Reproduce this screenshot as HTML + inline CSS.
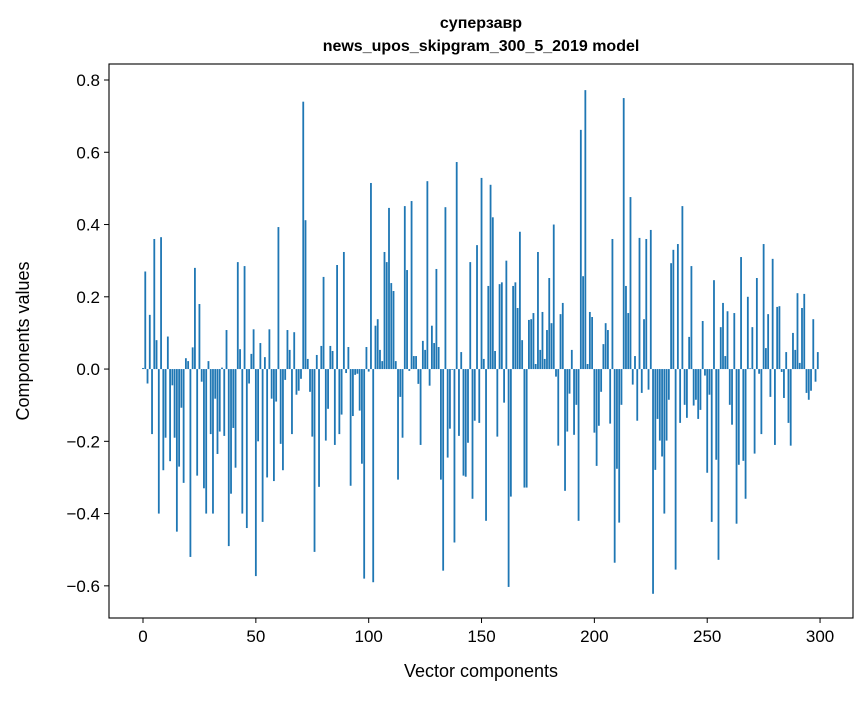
<!DOCTYPE html>
<html><head><meta charset="utf-8"><style>
html,body{margin:0;padding:0;background:#fff;}
svg text{font-family:"Liberation Sans","DejaVu Sans",sans-serif;fill:#000;}
</style></head><body>
<svg id="chart" width="867" height="696" viewBox="0 0 867 696" xmlns="http://www.w3.org/2000/svg">
<rect x="0" y="0" width="867" height="696" fill="#fff"/>
<text x="481" y="28" text-anchor="middle" font-size="16" font-weight="bold">суперзавр</text>
<text x="481" y="51" text-anchor="middle" font-size="16" font-weight="bold">news_upos_skipgram_300_5_2019 model</text>
<g id="bars"></g>
<g id="axes"></g>
<text x="481" y="677" text-anchor="middle" font-size="18">Vector components</text>
<text transform="translate(29,341) rotate(-90)" text-anchor="middle" font-size="18">Components values</text>
</svg>
<script>
const values = [
0.003,0.27,-0.04,0.15,-0.18,0.36,0.08,-0.40,0.365,-0.28,
-0.19,0.09,-0.255,-0.045,-0.19,-0.45,-0.27,-0.107,-0.315,0.03,
0.022,-0.52,0.06,0.28,-0.295,0.18,-0.035,-0.33,-0.40,0.022,
-0.18,-0.40,-0.082,-0.235,-0.173,0.004,-0.185,0.108,-0.49,-0.345,
-0.163,-0.273,0.296,0.055,-0.40,0.285,-0.44,-0.04,0.042,0.11,
-0.573,-0.2,0.072,-0.423,0.033,-0.30,0.11,-0.082,-0.31,-0.09,
0.393,-0.207,-0.28,-0.03,0.108,0.053,-0.18,0.102,-0.071,-0.06,
-0.027,0.74,0.412,0.028,-0.063,-0.187,-0.506,0.039,-0.326,0.064,
0.255,-0.198,-0.11,0.064,0.05,-0.21,0.288,-0.18,-0.126,0.324,
-0.011,0.061,-0.323,-0.13,-0.016,-0.013,-0.115,-0.262,-0.58,0.061,
-0.007,0.515,-0.59,0.12,0.138,0.053,0.022,0.324,0.296,0.446,
0.238,0.216,0.022,-0.306,-0.077,-0.19,0.451,0.274,-0.005,0.465,
0.036,0.036,-0.041,-0.21,0.078,0.053,0.52,-0.046,0.12,0.072,
0.277,0.061,-0.306,-0.558,0.448,-0.245,-0.165,-0.002,-0.48,0.573,
-0.185,0.047,-0.295,-0.298,-0.204,0.296,-0.359,-0.143,0.343,-0.149,
0.529,0.028,-0.42,0.23,0.51,0.42,0.05,-0.187,0.235,0.24,
-0.093,0.3,-0.603,-0.353,0.23,0.24,0.169,0.38,0.08,-0.328,
-0.328,0.136,0.138,0.155,0.014,0.324,0.053,0.158,0.028,0.108,
0.252,0.127,0.40,-0.021,-0.212,0.152,0.183,-0.337,-0.173,-0.068,
0.053,-0.182,-0.099,-0.42,0.662,0.257,0.772,0.014,0.158,0.144,
-0.176,-0.268,-0.157,-0.063,0.069,0.127,0.108,-0.151,0.36,-0.536,
-0.276,-0.425,-0.099,0.75,0.23,0.155,0.476,-0.043,0.036,-0.143,
0.363,-0.066,0.138,0.36,-0.057,0.385,-0.622,-0.279,-0.138,-0.198,
-0.242,-0.40,-0.198,-0.085,0.293,0.33,-0.555,0.346,-0.149,0.451,
-0.099,-0.135,0.089,0.285,-0.101,-0.085,-0.138,-0.113,0.133,-0.018,
-0.287,-0.071,-0.423,0.246,-0.251,-0.528,0.116,0.183,0.036,0.16,
-0.099,-0.154,0.155,-0.428,-0.265,0.31,-0.254,-0.359,0.2,0.002,
0.116,-0.234,0.252,-0.013,-0.18,0.346,0.058,0.152,-0.077,0.305,
-0.21,0.172,0.174,-0.008,-0.08,0.047,-0.149,-0.212,0.1,0.053,
0.21,0.017,0.169,0.208,-0.066,-0.085,-0.06,0.138,-0.035,0.047
];
const xTicks = [0,50,100,150,200,250,300];
const yTicks = [-0.6,-0.4,-0.2,0.0,0.2,0.4,0.6,0.8];
const yTickLabels = ["\u22120.6","\u22120.4","\u22120.2","0.0","0.2","0.4","0.6","0.8"];

const L=109,R=853,T=64,B=618;
const xMin=-15.07,xMax=314.6,yMin=-0.689,yMax=0.8443;
const sx=v=>L+(v-xMin)/(xMax-xMin)*(R-L);
const sy=v=>B-(v-yMin)/(yMax-yMin)*(B-T);
const NS="http://www.w3.org/2000/svg";
const bars=document.getElementById('bars');
values.forEach((v,i)=>{
  const r=document.createElementNS(NS,'rect');
  const x0=sx(i-0.4),x1=sx(i+0.4);
  const y0=sy(Math.max(v,0)),y1=sy(Math.min(v,0));
  r.setAttribute('x',x0);r.setAttribute('width',x1-x0);
  r.setAttribute('y',y0);r.setAttribute('height',Math.max(y1-y0,0.01));
  r.setAttribute('fill','#1f77b4');
  
  
  bars.appendChild(r);
});
const axes=document.getElementById('axes');
const frame=document.createElementNS(NS,'rect');
frame.setAttribute('x',L);frame.setAttribute('y',T);frame.setAttribute('width',R-L);frame.setAttribute('height',B-T);
frame.setAttribute('fill','none');frame.setAttribute('stroke','#000');frame.setAttribute('stroke-width','1.1');


axes.appendChild(frame);
xTicks.forEach(t=>{
  const x=sx(t);
  const l=document.createElementNS(NS,'line');
  l.setAttribute('x1',x);l.setAttribute('x2',x);l.setAttribute('y1',B);l.setAttribute('y2',B+5);l.setAttribute('stroke','#000');
  
  
  axes.appendChild(l);
  const tx=document.createElementNS(NS,'text');
  tx.setAttribute('x',x);tx.setAttribute('y',B+24);tx.setAttribute('text-anchor','middle');tx.setAttribute('font-size','17');
  tx.textContent=t;
  
  
  axes.appendChild(tx);
});
yTicks.forEach((t,k)=>{
  const y=sy(t);
  const l=document.createElementNS(NS,'line');
  l.setAttribute('x1',L-5);l.setAttribute('x2',L);l.setAttribute('y1',y);l.setAttribute('y2',y);l.setAttribute('stroke','#000');
  
  
  axes.appendChild(l);
  const tx=document.createElementNS(NS,'text');
  tx.setAttribute('x',L-9);tx.setAttribute('y',y+6);tx.setAttribute('text-anchor','end');tx.setAttribute('font-size','17');
  tx.textContent=yTickLabels[k];
  
  
  axes.appendChild(tx);
});
</script>
</body></html>
